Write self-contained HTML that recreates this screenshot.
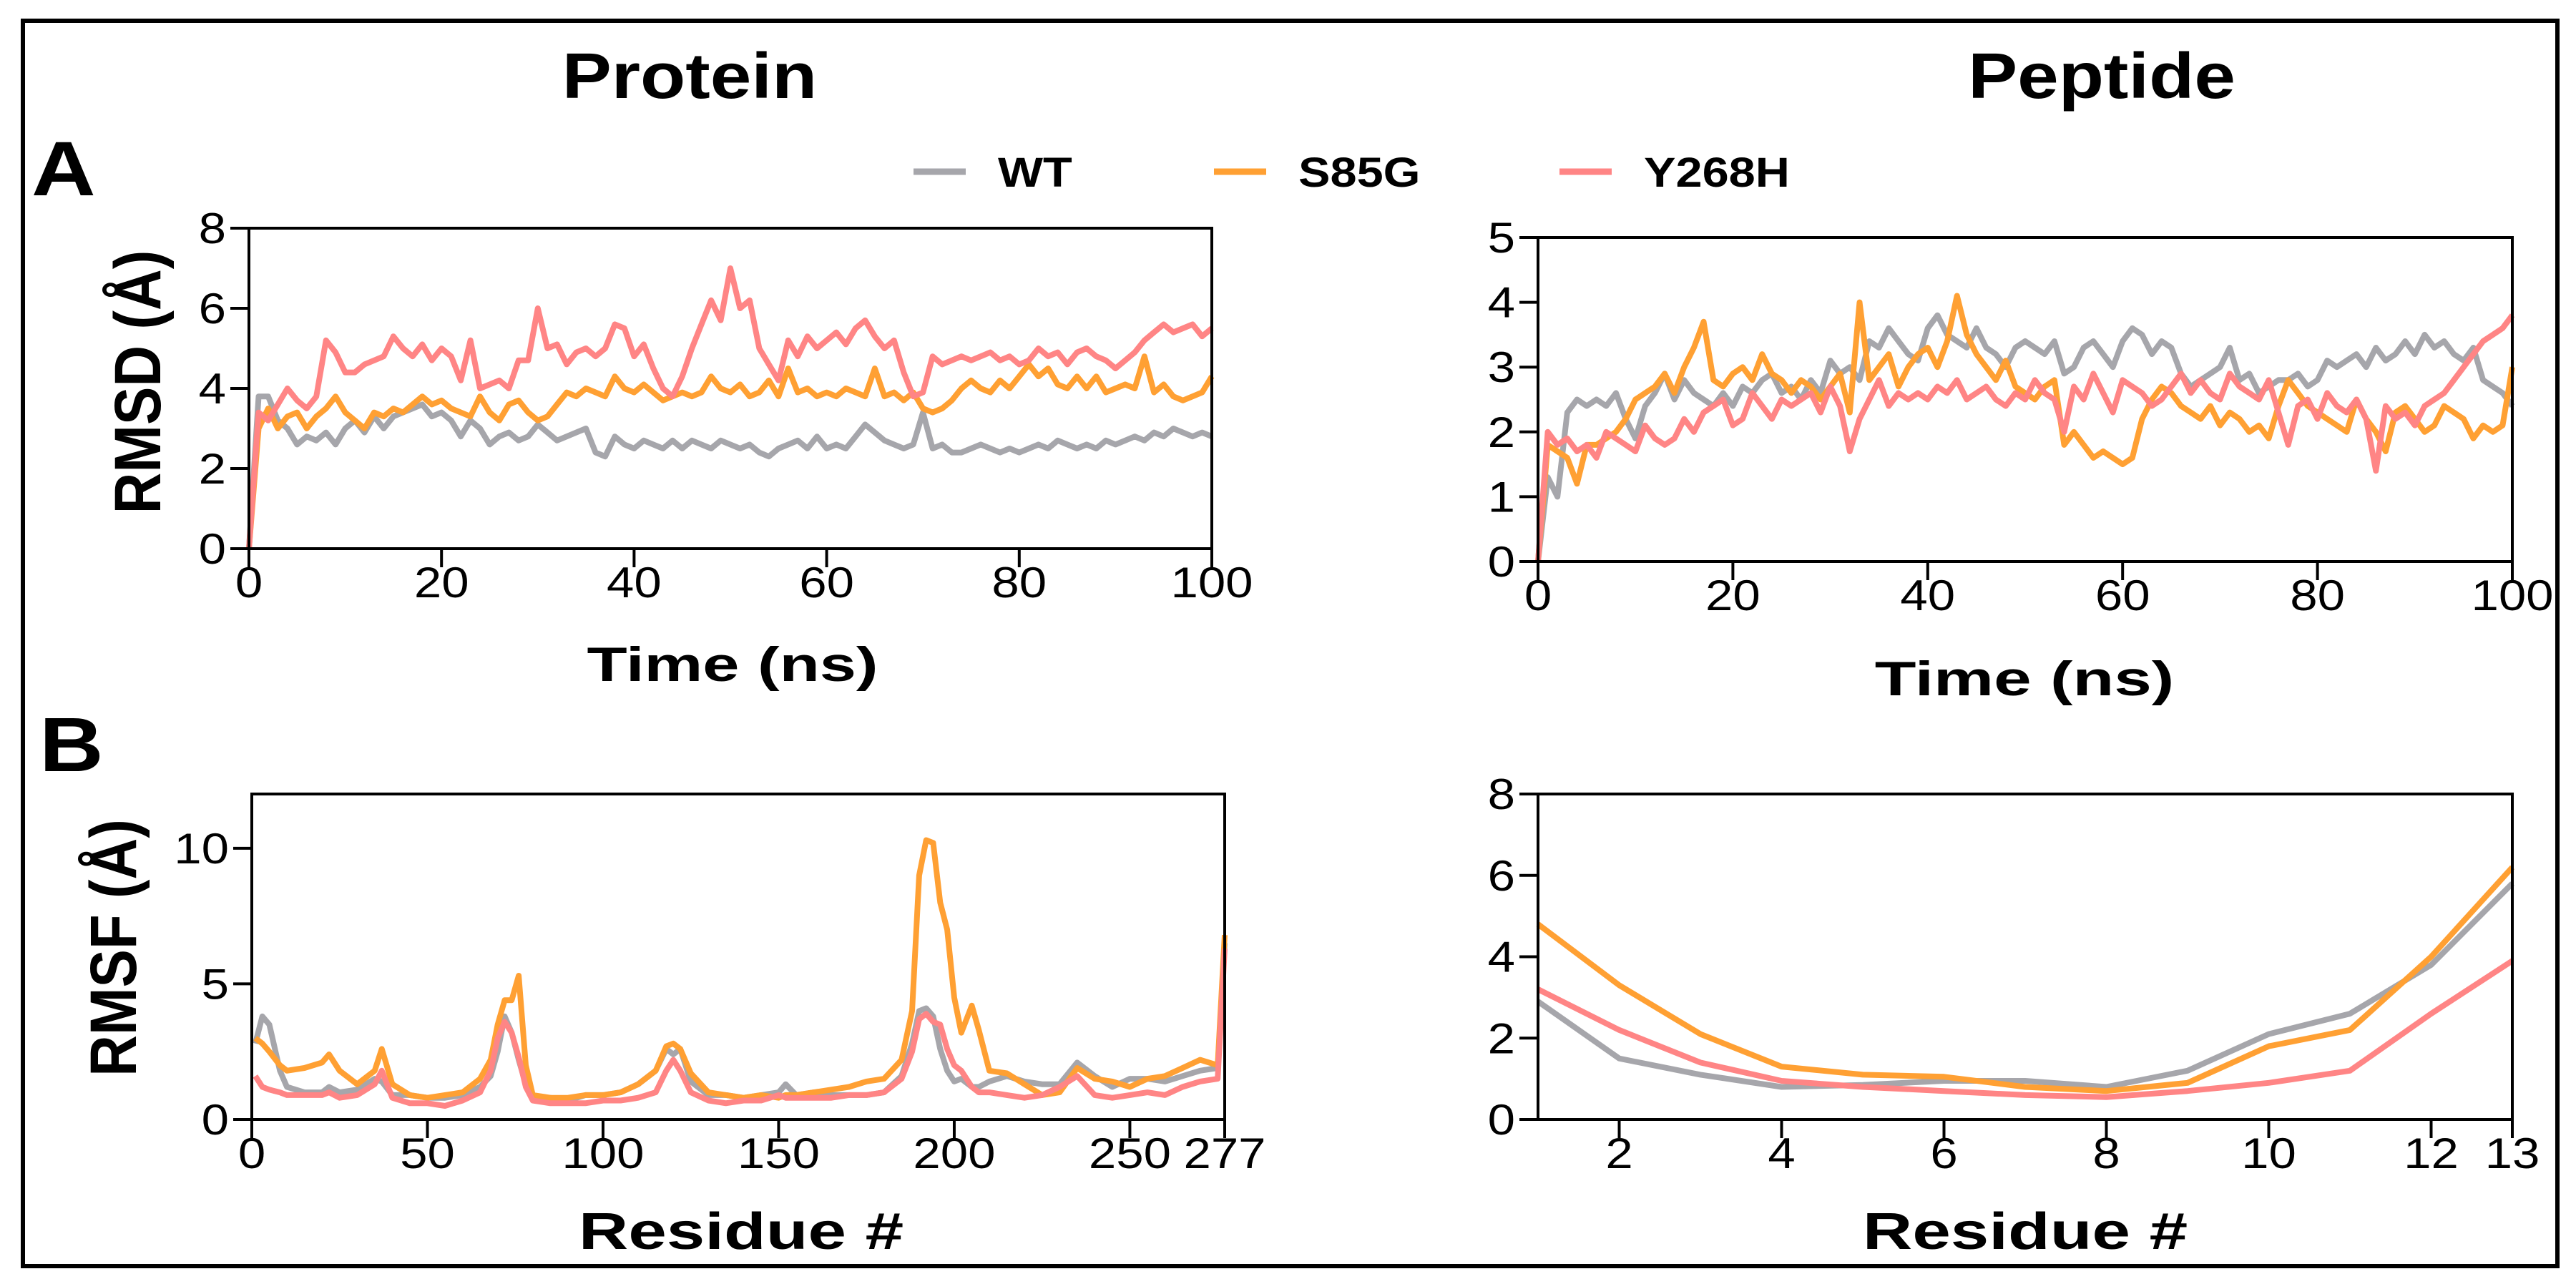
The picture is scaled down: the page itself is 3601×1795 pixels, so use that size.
<!DOCTYPE html>
<html><head><meta charset="utf-8"><style>
html,body{margin:0;padding:0;background:#fff;}
svg{display:block;}
text{font-family:"Liberation Sans",Arial,sans-serif;}
</style></head><body>
<svg id="fig" width="3601" height="1795" viewBox="0 0 3601 1795" xmlns="http://www.w3.org/2000/svg">
<rect x="0" y="0" width="3601" height="1795" fill="#fff"/>
<rect x="32" y="29" width="3543" height="1741" fill="none" stroke="#000" stroke-width="6"/>
</svg>
<script>
// ---- data ----
const timeNs = Array.from({length:101},(_,i)=>i);
const protWT = [0,3.8,3.8,3.2,3.0,2.6,2.8,2.7,2.9,2.6,3.0,3.2,2.9,3.3,3.0,3.3,3.4,3.5,3.6,3.3,3.4,3.2,2.8,3.2,3.0,2.6,2.8,2.9,2.7,2.8,3.1,2.9,2.7,2.8,2.9,3.0,2.4,2.3,2.8,2.6,2.5,2.7,2.6,2.5,2.7,2.5,2.7,2.6,2.5,2.7,2.6,2.5,2.6,2.4,2.3,2.5,2.6,2.7,2.5,2.8,2.5,2.6,2.5,2.8,3.1,2.9,2.7,2.6,2.5,2.6,3.4,2.5,2.6,2.4,2.4,2.5,2.6,2.5,2.4,2.5,2.4,2.5,2.6,2.5,2.7,2.6,2.5,2.6,2.5,2.7,2.6,2.7,2.8,2.7,2.9,2.8,3.0,2.9,2.8,2.9,2.8];
const protS85G = [0,3.0,3.5,3.0,3.3,3.4,3.0,3.3,3.5,3.8,3.4,3.2,3.0,3.4,3.3,3.5,3.4,3.6,3.8,3.6,3.7,3.5,3.4,3.3,3.8,3.4,3.2,3.6,3.7,3.4,3.2,3.3,3.6,3.9,3.8,4.0,3.9,3.8,4.3,4.0,3.9,4.1,3.9,3.7,3.8,3.9,3.8,3.9,4.3,4.0,3.9,4.1,3.8,3.9,4.2,3.8,4.5,3.9,4.0,3.8,3.9,3.8,4.0,3.9,3.8,4.5,3.8,3.9,3.7,3.9,3.5,3.4,3.5,3.7,4.0,4.2,4.0,3.9,4.2,4.0,4.3,4.6,4.3,4.5,4.1,4.0,4.3,4.0,4.3,3.9,4.0,4.1,4.0,4.8,3.9,4.1,3.8,3.7,3.8,3.9,4.3];
const protY268H = [0,3.4,3.2,3.6,4.0,3.7,3.5,3.8,5.2,4.9,4.4,4.4,4.6,4.7,4.8,5.3,5.0,4.8,5.1,4.7,5.0,4.8,4.2,5.2,4.0,4.1,4.2,4.0,4.7,4.7,6.0,5.0,5.1,4.6,4.9,5.0,4.8,5.0,5.6,5.5,4.8,5.1,4.5,4.0,3.8,4.3,5.0,5.6,6.2,5.7,7.0,6.0,6.2,5.0,4.6,4.2,5.2,4.8,5.3,5.0,5.2,5.4,5.1,5.5,5.7,5.3,5.0,5.2,4.4,3.8,3.9,4.8,4.6,4.7,4.8,4.7,4.8,4.9,4.7,4.8,4.6,4.7,5.0,4.8,4.9,4.6,4.9,5.0,4.8,4.7,4.5,4.7,4.9,5.2,5.4,5.6,5.4,5.5,5.6,5.3,5.5];
const pepWT = [0,1.3,1.0,2.3,2.5,2.4,2.5,2.4,2.6,2.2,1.9,2.4,2.6,2.9,2.5,2.8,2.6,2.5,2.4,2.6,2.4,2.7,2.6,2.8,2.9,2.6,2.7,2.5,2.8,2.6,3.1,2.9,3.0,2.8,3.4,3.3,3.6,3.4,3.2,3.1,3.6,3.8,3.5,3.4,3.3,3.6,3.3,3.2,3.0,3.3,3.4,3.3,3.2,3.4,2.9,3.0,3.3,3.4,3.2,3.0,3.4,3.6,3.5,3.2,3.4,3.3,2.9,2.7,2.8,2.9,3.0,3.3,2.8,2.9,2.6,2.7,2.8,2.8,2.9,2.7,2.8,3.1,3.0,3.1,3.2,3.0,3.3,3.1,3.2,3.4,3.2,3.5,3.3,3.4,3.2,3.1,3.3,2.8,2.7,2.6,2.4];
const pepS85G = [0,1.8,1.7,1.6,1.2,1.8,1.8,1.9,2.0,2.2,2.5,2.6,2.7,2.9,2.6,3.0,3.3,3.7,2.8,2.7,2.9,3.0,2.8,3.2,2.9,2.8,2.6,2.8,2.7,2.5,2.7,2.9,2.3,4.0,2.8,3.0,3.2,2.7,3.0,3.2,3.3,3.0,3.4,4.1,3.5,3.2,3.0,2.8,3.1,2.7,2.6,2.5,2.7,2.8,1.8,2.0,1.8,1.6,1.7,1.6,1.5,1.6,2.2,2.5,2.7,2.6,2.4,2.3,2.2,2.4,2.1,2.3,2.2,2.0,2.1,1.9,2.4,2.8,2.6,2.4,2.3,2.2,2.1,2.0,2.5,2.2,2.0,1.7,2.3,2.4,2.2,2.0,2.1,2.4,2.3,2.2,1.9,2.1,2.0,2.1,3.0];
const pepY268H = [0,2.0,1.8,1.9,1.7,1.8,1.6,2.0,1.9,1.8,1.7,2.1,1.9,1.8,1.9,2.2,2.0,2.3,2.4,2.5,2.1,2.2,2.6,2.4,2.2,2.5,2.4,2.5,2.6,2.3,2.7,2.4,1.7,2.2,2.5,2.8,2.4,2.6,2.5,2.6,2.5,2.7,2.6,2.8,2.5,2.6,2.7,2.5,2.4,2.6,2.5,2.8,2.6,2.5,2.0,2.7,2.5,2.9,2.6,2.3,2.8,2.7,2.6,2.4,2.5,2.7,2.9,2.6,2.8,2.6,2.5,2.9,2.7,2.6,2.5,2.8,2.3,1.8,2.4,2.5,2.2,2.6,2.4,2.3,2.5,2.2,1.4,2.4,2.2,2.3,2.1,2.4,2.5,2.6,2.8,3.0,3.2,3.4,3.5,3.6,3.8];
const protResidues = [1,3,5,8,10,15,20,22,25,30,35,37,40,45,50,55,60,65,68,70,72,74,76,78,80,85,90,95,100,105,110,115,118,120,122,125,130,135,140,145,150,152,155,160,165,170,175,180,185,188,190,192,194,196,198,200,202,205,207,210,215,220,225,230,235,240,245,250,255,260,265,270,275,277];
const rmsfWT = [2.8,3.8,3.5,1.8,1.2,1.0,1.0,1.2,1.0,1.1,1.5,1.4,0.9,0.9,0.8,0.8,0.9,1.2,1.6,2.5,3.8,3.2,2.2,1.3,0.8,0.8,0.7,0.9,0.9,1.0,1.3,1.8,2.6,2.4,2.6,1.4,0.9,0.9,0.8,0.9,1.0,1.3,0.9,1.0,0.9,0.9,0.9,1.0,1.6,2.8,4.0,4.1,3.8,2.6,1.8,1.4,1.5,1.2,1.2,1.4,1.6,1.4,1.3,1.3,2.1,1.6,1.2,1.5,1.5,1.4,1.6,1.8,1.9,6.5];
const rmsfS85G = [3.0,2.8,2.5,2.0,1.8,1.9,2.1,2.4,1.8,1.3,1.8,2.6,1.3,0.9,0.8,0.9,1.0,1.5,2.2,3.5,4.4,4.4,5.3,2.0,0.9,0.8,0.8,0.9,0.9,1.0,1.3,1.8,2.7,2.8,2.6,1.7,1.0,0.9,0.8,0.9,0.8,0.9,0.9,1.0,1.1,1.2,1.4,1.5,2.2,4.0,9.0,10.3,10.2,8.0,7.0,4.5,3.2,4.2,3.3,1.8,1.7,1.3,0.9,1.0,1.9,1.5,1.4,1.2,1.5,1.6,1.9,2.2,2.0,6.8];
const rmsfY268H = [1.6,1.2,1.1,1.0,0.9,0.9,0.9,1.0,0.8,0.9,1.3,1.8,0.8,0.6,0.6,0.5,0.7,1.0,1.8,3.0,3.6,3.2,2.3,1.2,0.7,0.6,0.6,0.6,0.7,0.7,0.8,1.0,1.8,2.2,1.8,1.0,0.7,0.6,0.7,0.7,0.9,0.8,0.8,0.8,0.8,0.9,0.9,1.0,1.5,2.5,3.7,3.9,3.6,3.5,2.6,2.0,1.8,1.2,1.0,1.0,0.9,0.8,0.9,1.2,1.6,0.9,0.8,0.9,1.0,0.9,1.2,1.4,1.5,6.3];
const pepResidues = [1,2,3,4,5,6,7,8,9,10,11,12,13];
const pepRmsfWT = [2.9,1.5,1.1,0.8,0.85,0.95,0.95,0.8,1.2,2.1,2.6,3.8,5.8];
const pepRmsfS85G = [4.8,3.3,2.1,1.3,1.1,1.05,0.8,0.7,0.9,1.8,2.2,4.0,6.2];
const pepRmsfY268H = [3.2,2.2,1.4,0.95,0.8,0.7,0.6,0.55,0.7,0.9,1.2,2.6,3.9];
const seriesNames = ["WT","S85G","Y268H"];
const tickTime = [0,20,40,60,80,100];
const tickRmsdProt = [0,2,4,6,8];
const tickRmsdPep = [0,1,2,3,4,5];
const tickResProt = [0,50,100,150,200,250,277];
const tickRmsfProt = [0,5,10];
const tickResPep = [2,4,6,8,10,12,13];
const tickRmsfPep = [0,2,4,6,8];

const COLORS = {WT:"#a6a6ab", S85G:"#ffa033", Y268H:"#ff8585"};
const NS = "http://www.w3.org/2000/svg";
const svg = document.getElementById('fig');
const SX = 1.15;

function mk(tag, attrs, parent){
  const e = document.createElementNS(NS, tag);
  for (const k in attrs) e.setAttribute(k, attrs[k]);
  (parent||svg).appendChild(e);
  return e;
}
function txt(str, x, y, size, weight, anchor, parent, rot, tl){
  const a = {'font-size':size, 'font-weight':weight, 'text-anchor':anchor,
    transform: rot ? `translate(${x},${y}) rotate(-90) scale(1,${SX})` : `translate(${x},${y}) scale(${SX},1)`};
  if (tl) { a.textLength = tl; a.lengthAdjust = 'spacingAndGlyphs'; }
  const t = mk('text', a, parent);
  t.textContent = str;
  return t;
}

function panel(name, px0, px1, py0, py1, xd, yd, xticks, yticks, series, xs, sw){
  const g = mk('g', {});
  
  
  const xS = v => px0 + (v - xd[0]) / (xd[1] - xd[0]) * (px1 - px0);
  const yS = v => py1 - (v - yd[0]) / (yd[1] - yd[0]) * (py1 - py0);
  series.forEach((s, si) => {
    const d = s.vals.map((v, i) => (i ? 'L' : 'M') + xS(xs[i]).toFixed(1) + ',' + yS(v).toFixed(1)).join('');
    const p = mk('path', {d, fill:'none', stroke:COLORS[s.name], 'stroke-width':sw, 'stroke-linejoin':'round'}, g);
    
    
  });
  const fr = mk('rect', {x:px0, y:py0, width:px1-px0, height:py1-py0, fill:'none', stroke:'#000', 'stroke-width':4}, g);
  
  
  const xa = mk('g', {}, g);
  
  
  xticks.forEach(v => {
    const x = xS(v);
    mk('line', {x1:x, x2:x, y1:py1, y2:py1+26, stroke:'#000', 'stroke-width':4}, xa);
    const t = txt(String(v), x, py1 + 68, 60, 'normal', 'middle', xa);
    
    
  });
  const ya = mk('g', {}, g);
  
  
  yticks.forEach(v => {
    const y = yS(v);
    mk('line', {x1:px0-26, x2:px0, y1:y, y2:y, stroke:'#000', 'stroke-width':4}, ya);
    const t = txt(String(v), px0 - 32, y + 21, 60, 'normal', 'end', ya);
    
    
  });
}

panel('protein-rmsd-chart', 348, 1694, 319, 767, [0,100], [0,8], tickTime, tickRmsdProt,
  [{name:'WT', vals:protWT},{name:'S85G', vals:protS85G},{name:'Y268H', vals:protY268H}], timeNs, 8);
panel('peptide-rmsd-chart', 2150, 3512, 332, 785, [0,100], [0,5], tickTime, tickRmsdPep,
  [{name:'WT', vals:pepWT},{name:'S85G', vals:pepS85G},{name:'Y268H', vals:pepY268H}], timeNs, 8);
panel('protein-rmsf-chart', 352, 1712, 1110, 1565, [0,277], [0,12], tickResProt, tickRmsfProt,
  [{name:'WT', vals:rmsfWT},{name:'S85G', vals:rmsfS85G},{name:'Y268H', vals:rmsfY268H}], protResidues, 8);
panel('peptide-rmsf-chart', 2150, 3512, 1110, 1565, [1,13], [0,8], tickResPep, tickRmsfPep,
  [{name:'WT', vals:pepRmsfWT},{name:'S85G', vals:pepRmsfS85G},{name:'Y268H', vals:pepRmsfY268H}], pepResidues, 8);

let t;
t = txt('Protein', 964, 137, 90, 'bold', 'middle');


t = txt('Peptide', 2938, 137, 90, 'bold', 'middle');


t = txt('A', 44, 273, 108, 'bold', 'start');


t = txt('B', 55, 1078, 108, 'bold', 'start');


t = txt('RMSD (Å)', 224, 534, 80, 'bold', 'middle', null, true);


t = txt('RMSF (Å)', 190, 1325, 80, 'bold', 'middle', null, true);


t = txt('Time (ns)', 1024, 952, 68, 'bold', 'middle', null, false, 354);


t = txt('Time (ns)', 2830, 972, 68, 'bold', 'middle', null, false, 364);


t = txt('Residue #', 1036, 1746, 72, 'bold', 'middle', null, false, 395);


t = txt('Residue #', 2831, 1746, 72, 'bold', 'middle', null, false, 395);



const legX = [1277, 1697, 2180];
const leg = mk('g', {});


seriesNames.forEach((n, i) => {
  const e = mk('g', {}, leg);
  
  
  mk('line', {x1:legX[i], x2:legX[i]+73, y1:240, y2:240, stroke:COLORS[n], 'stroke-width':9}, e);
  const lt = txt(n, legX[i] + 118, 261, 58, 'bold', 'start', e);
  
  
});
</script>
</body></html>
